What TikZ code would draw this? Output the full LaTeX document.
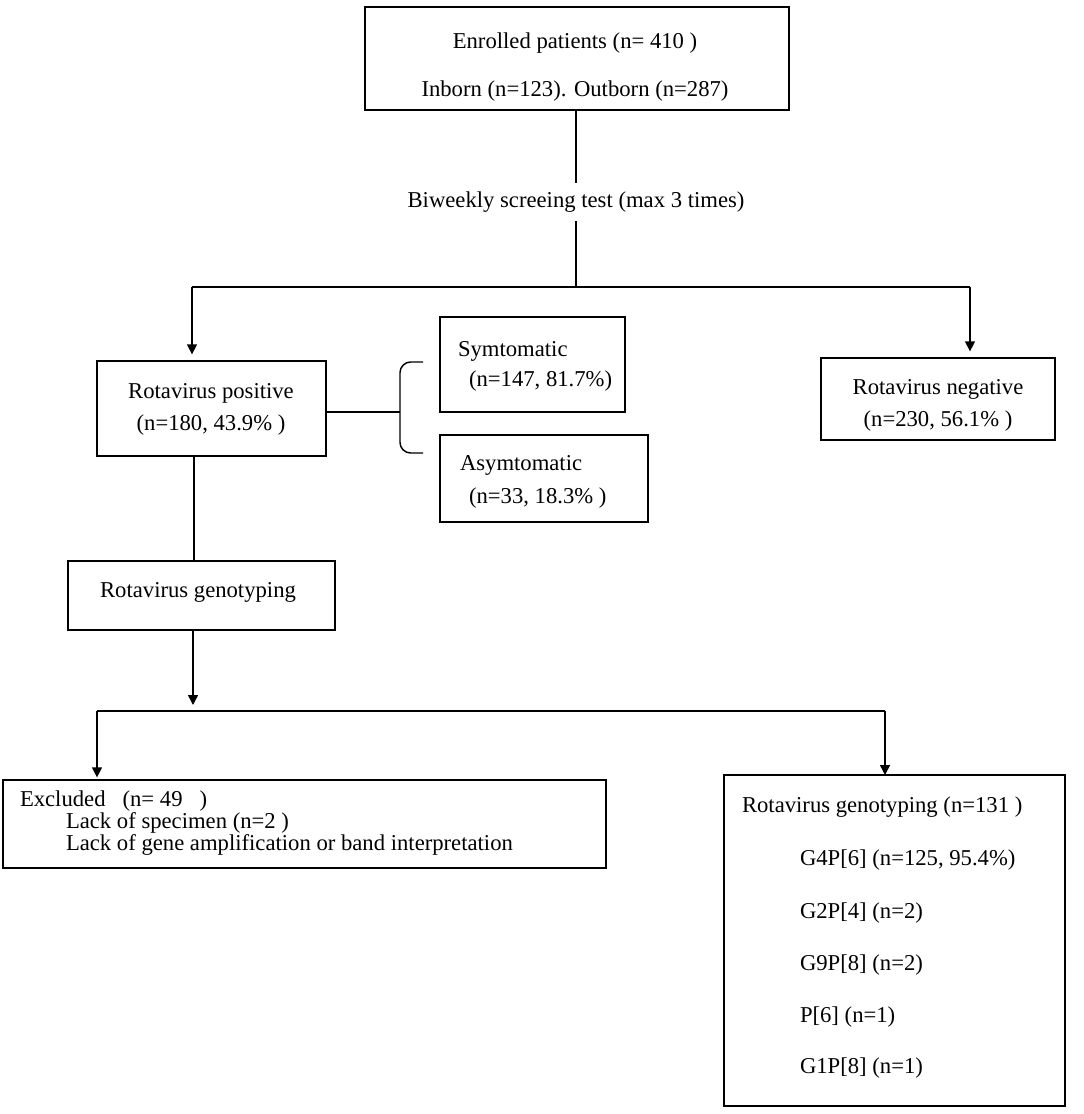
\documentclass[tikz,border=0pt]{standalone}
\usepackage{fontspec}
\setmainfont{Liberation Serif}
\usetikzlibrary{arrows.meta}
\begin{document}
\begin{tikzpicture}[x=0.75pt,y=-0.75pt,inner sep=0pt,outer sep=0pt,line width=1.1pt,
>={Triangle[width=7.5pt,length=7.5pt]},
flowbox/.style={draw,rectangle,inner sep=0pt},
boxtext/.style={font=\fontsize{17}{20}\selectfont,text height=12.75pt,text depth=4.25pt},
tighttext/.style={boxtext,text height=10.25pt,text depth=3.25pt}]
\useasboundingbox (0,0) rectangle (1084,1114);
% boxes
\draw (577,58.5) node[flowbox,minimum width=318pt,minimum height=77.25pt] (enrol) {};
\draw (211.5,408.5) node[flowbox,minimum width=171.75pt,minimum height=71.25pt] (pos) {};
\draw (532.5,364.5) node[flowbox,minimum width=138.75pt,minimum height=71.25pt] (sym) {};
\draw (544,478.5) node[flowbox,minimum width=156pt,minimum height=65.25pt] (asym) {};
\draw (938,399) node[flowbox,minimum width=175.5pt,minimum height=61.5pt] (neg) {};
\draw (201.5,595.5) node[flowbox,minimum width=200.25pt,minimum height=51.75pt] (geno) {};
\draw (304.5,824) node[flowbox,minimum width=452.25pt,minimum height=66pt] (excl) {};
\draw (894.5,940.5) node[flowbox,minimum width=255.75pt,minimum height=248.25pt] (gtyp) {};
% texts
\draw (575,43) node[boxtext] (enrolA) {Enrolled patients (n= 410 )};
\draw (575,91) node[boxtext] (enrolB) {Inborn (n=123). Outborn (n=287)};
\draw (576,202) node[boxtext,inner ysep=6pt] (screen) {Biweekly screeing test (max 3 times)};
\draw (211,393) node[boxtext] (posA) {Rotavirus positive};
\draw (211,425) node[boxtext] (posB) {(n=180, 43.9\% )};
\draw (458,351) node[boxtext,anchor=west] (symA) {Symtomatic};
\draw (469,381) node[boxtext,anchor=west] (symB) {(n=147, 81.7\%)};
\draw (460,465) node[boxtext,anchor=west] (asymA) {Asymtomatic};
\draw (469,498) node[boxtext,anchor=west] (asymB) {(n=33, 18.3\% )};
\draw (938,389) node[boxtext] (negA) {Rotavirus negative};
\draw (938,421) node[boxtext] (negB) {(n=230, 56.1\% )};
\draw (198,592) node[boxtext] (genoA) {Rotavirus genotyping};
\draw (20,802) node[tighttext,anchor=west] (exclA) {Excluded~~~(n= 49~~~)};
\draw (66,824) node[tighttext,anchor=west] (exclB) {Lack of specimen (n=2 )};
\draw (66,846) node[tighttext,anchor=west] (exclC) {Lack of gene amplification or band interpretation};
\draw (742,807) node[boxtext,anchor=west] (gtypA) {Rotavirus genotyping (n=131 )};
\draw (800,860) node[boxtext,anchor=west] (gtypB) {G4P[6] (n=125, 95.4\%)};
\draw (800,913) node[boxtext,anchor=west] (gtypC) {G2P[4] (n=2)};
\draw (800,965) node[boxtext,anchor=west] (gtypD) {G9P[8] (n=2)};
\draw (800,1017) node[boxtext,anchor=west] (gtypE) {P[6] (n=1)};
\draw (800,1068) node[boxtext,anchor=west] (gtypF) {G1P[8] (n=1)};
% connectors
\coordinate (split) at (576,287);
\coordinate (posin) at (192,287);
\coordinate (negin) at (970,287);
\draw (enrol.south -| screen) -- (screen.north);
\draw (screen.south) -- (split);
\draw (posin) -- (negin);
\draw[->,shorten >=5pt] (posin) -- (posin |- pos.north);
\draw[->,shorten >=5pt] (negin) -- (negin |- neg.north);
\coordinate (brace) at (400,412);
\draw (pos.east |- brace) -- (brace);
\draw[rounded corners=8pt] (423,362) -- (400,362) -- (400,453) -- (423,453);
\draw ([xshift=-13pt]pos.south) -- ([xshift=-13pt]pos.south |- geno.north);
\coordinate (split2) at (193,711);
\coordinate (exclin) at (97,711);
\coordinate (gtypin) at (885,711);
\draw[->,shorten >=4.5pt] (split2 |- geno.south) -- (split2);
\draw (exclin) -- (gtypin);
\draw[->,shorten >=2pt] (exclin) -- (exclin |- excl.north);
\draw[->] (gtypin) -- (gtypin |- gtyp.north);
\end{tikzpicture}
\end{document}
